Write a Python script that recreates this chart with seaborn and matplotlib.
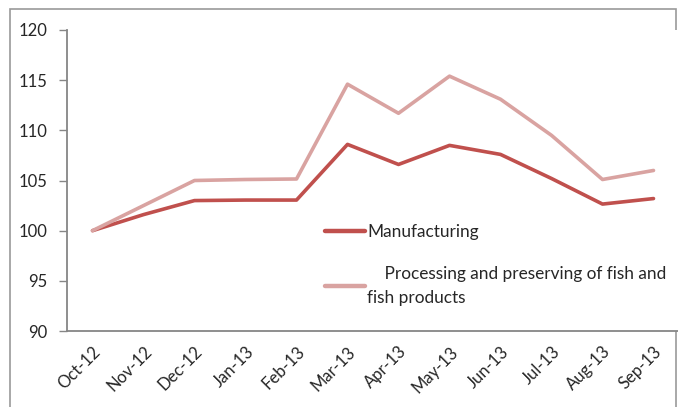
import matplotlib
matplotlib.use("Agg")
import matplotlib.pyplot as plt
import seaborn as sns
import pandas as pd
from matplotlib.patches import Rectangle

months = ["Oct-12", "Nov-12", "Dec-12", "Jan-13", "Feb-13", "Mar-13",
          "Apr-13", "May-13", "Jun-13", "Jul-13", "Aug-13", "Sep-13"]
manufacturing = [100.0, 101.6, 103.0, 103.05, 103.05, 108.6,
                 106.6, 108.5, 107.6, 105.2, 102.65, 103.2]
fish = [100.0, 102.5, 105.0, 105.1, 105.15, 114.6,
        111.7, 115.4, 113.1, 109.5, 105.1, 106.0]
series_names = ["Manufacturing",
                "    Processing and preserving of fish and\nfish products"]
colors = ["#C0504D", "#D9A3A1"]
yticks = [90, 95, 100, 105, 110, 115, 120]

df = pd.DataFrame({
    "month": months * 2,
    "x": list(range(len(months))) * 2,
    "value": manufacturing + fish,
    "series": [series_names[0]] * len(months) + [series_names[1]] * len(months),
})

sns.set_style("white")
plt.rcParams["font.family"] = ["Lato", "DejaVu Sans"]

fig = plt.figure(figsize=(6.78, 4.07), dpi=100)
ax = fig.add_axes([67 / 678, 1 - 331 / 407, 612 / 678, 301 / 407])

sns.lineplot(data=df, x="x", y="value", hue="series", palette=colors,
             hue_order=series_names, linewidth=2.6, ax=ax, legend=True,
             sort=False)

ax.set_xlim(-0.5, len(months) - 0.5)
ax.set_ylim(90, 120)
ax.set_yticks(yticks)
ax.set_yticklabels([str(v) for v in yticks], fontsize=12)
ax.set_xticks(range(len(months)))
ax.set_xticklabels(months, rotation=45, ha="right", rotation_mode="anchor",
                   fontsize=12)
ax.set_xticks([i - 0.5 for i in range(len(months) + 1)], minor=True)
ax.tick_params(axis="x", which="major", length=0, pad=9)
ax.tick_params(axis="x", which="minor", length=6, width=1, color="#868686",
               direction="out")
ax.tick_params(axis="y", length=6, width=1, color="#868686", direction="out",
               left=True, pad=8)
ax.set_xlabel("")
ax.set_ylabel("")
for s in ["top", "right"]:
    ax.spines[s].set_visible(False)
for s in ["left", "bottom"]:
    ax.spines[s].set_color("#868686")
    ax.spines[s].set_linewidth(1.3)

handles, labels = ax.get_legend_handles_labels()
leg = ax.legend(handles, labels, loc="upper left",
                bbox_to_anchor=(318 / 678, 1 - 217 / 407),
                bbox_transform=fig.transFigure, frameon=False, fontsize=12.4,
                handlelength=2.3, handletextpad=0.15, labelspacing=1.5,
                borderaxespad=0)
for t in leg.get_texts():
    t.set_linespacing(1.6)
for line in leg.get_lines():
    line.set_linewidth(3.2)

fig.patches.append(Rectangle((10 / 678, -0.1), 666 / 678, 1.1 - 9 / 407,
                             transform=fig.transFigure, fill=False,
                             edgecolor="#9A9A9A", linewidth=1.2, zorder=-1))

fig.savefig("out.png", dpi=100)
